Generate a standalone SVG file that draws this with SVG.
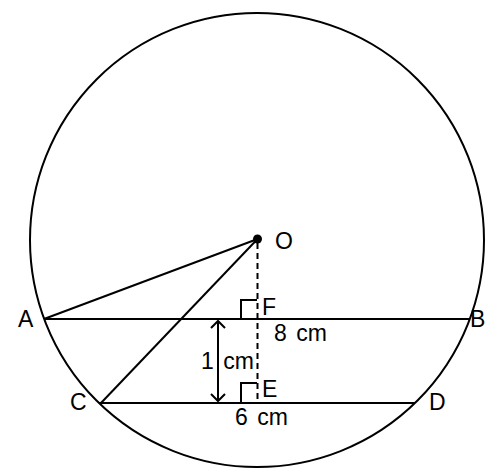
<svg xmlns="http://www.w3.org/2000/svg" width="503" height="476" viewBox="0 0 503 476">
<style>
.l{stroke:#000;stroke-width:2;fill:none}
.d{stroke:#000;stroke-width:2;fill:none;stroke-dasharray:6 4}
.t{font-family:"Liberation Sans",Arial,sans-serif;font-size:23px;fill:#000}
.m{word-spacing:3px}
</style>
<rect width="503" height="476" fill="#fff"/>
<g id="circle"><circle class="l" cx="257" cy="240" r="227"/></g>
<g id="connectors">
<line class="l" x1="44" y1="319" x2="470" y2="319"/>
<line class="l" x1="99" y1="403" x2="415" y2="403"/>
<line class="l" x1="44" y1="319" x2="257.5" y2="239"/>
<line class="l" x1="101" y1="403" x2="257.5" y2="239"/>
<line class="d" x1="257.5" y1="243" x2="257.5" y2="403"/>
<polyline class="l" points="241,319 241,300 257,300"/>
<polyline class="l" points="241,403 241,383 257,383"/>
<line class="l" x1="218" y1="321" x2="218" y2="401"/>
<polyline class="l" points="211,328 218,321 225,328"/>
<polyline class="l" points="211,394 218,401 225,394"/>
</g>
<g id="O"><circle cx="257.5" cy="239" r="4.5" fill="#000"/><text class="t" x="275" y="249">O</text></g>
<g id="A"><text class="t" x="18" y="327">A</text></g>
<g id="B"><text class="t" x="470" y="327">B</text></g>
<g id="C"><text class="t" x="70" y="410">C</text></g>
<g id="D"><text class="t" x="429" y="410">D</text></g>
<g id="F"><text class="t" x="262" y="315">F</text></g>
<g id="E"><text class="t" x="262" y="397">E</text></g>
<g id="labels">
<text class="t m" x="274" y="341">8 cm</text>
<text class="t m" x="201" y="369">1 cm</text>
<text class="t m" x="235" y="425">6 cm</text>
</g>
</svg>
